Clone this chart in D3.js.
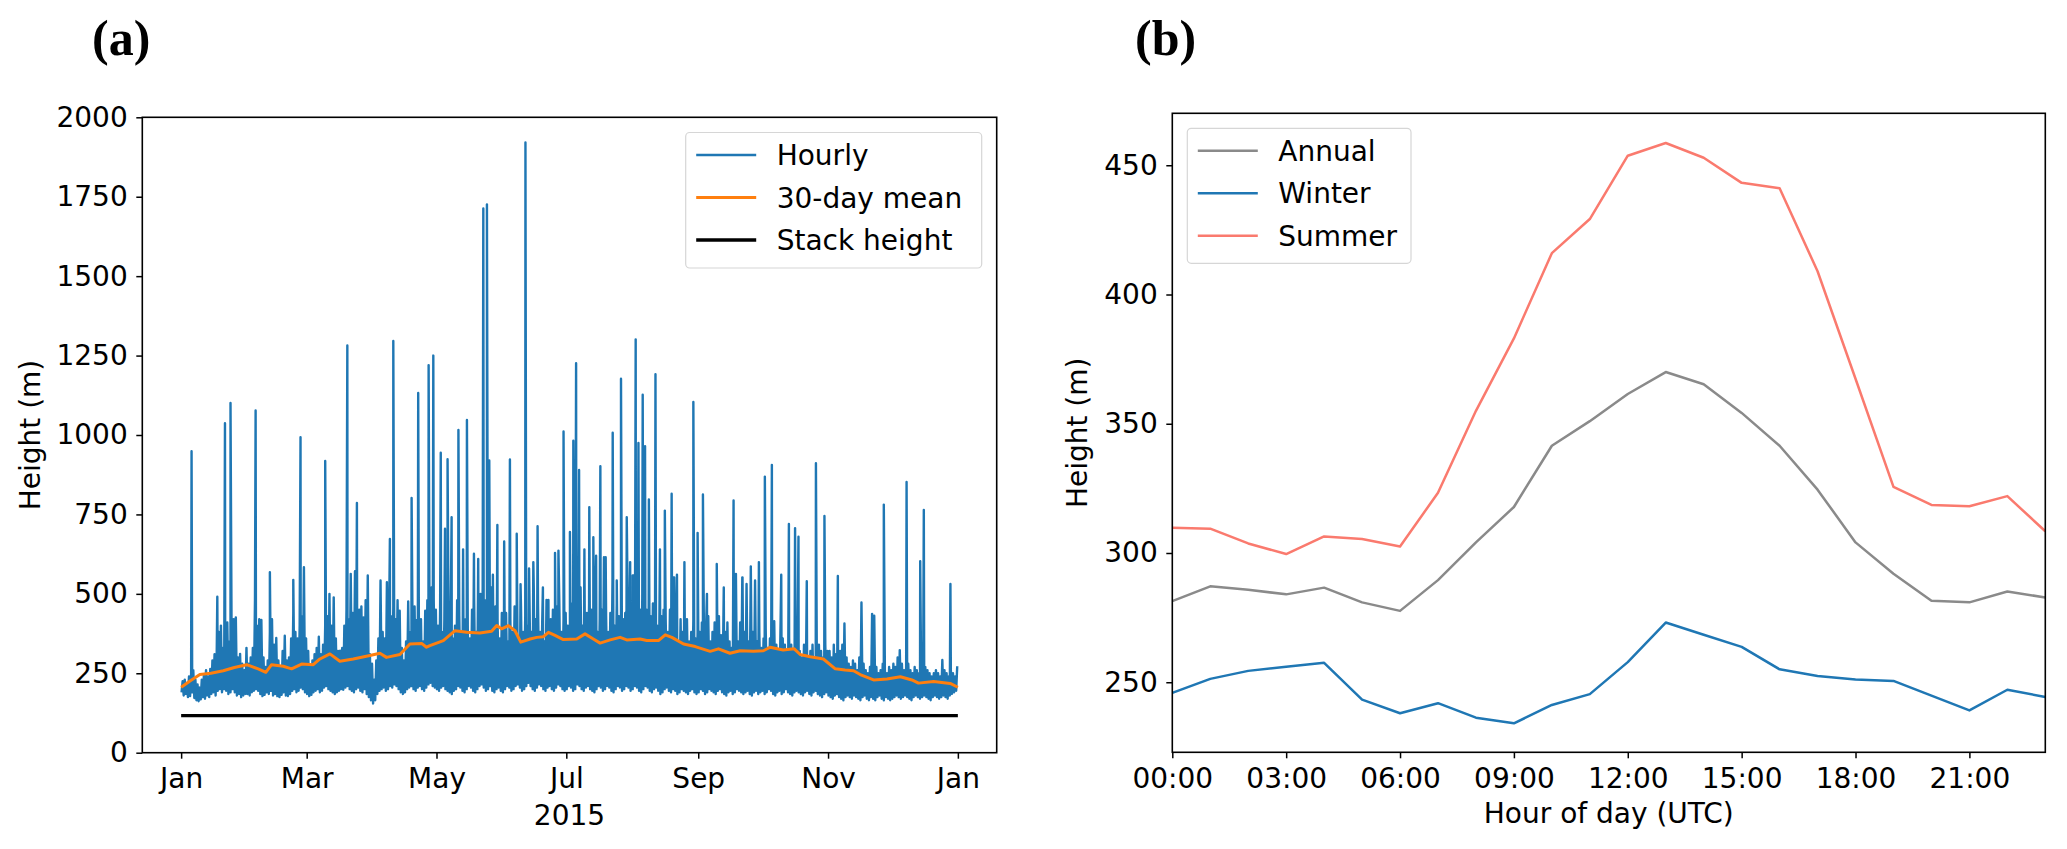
<!DOCTYPE html>
<html>
<head>
<meta charset="utf-8">
<script src="https://cdn.jsdelivr.net/npm/d3@7"></script>
<style>
  body { margin: 0; background: #fff; }
  svg text { font-family: "DejaVu Sans", sans-serif; fill: #000; }
</style>
</head>
<body>
<div id="chart"></div>
<script>
// ---- panel (a): hourly plume height, 2015 ----
const monthStart = [0, 31, 59, 90, 120, 151, 181, 212, 243, 273, 304, 334];

// typical daily peak of the hourly series, one row per month
const bandHigh = [
  [225,230,215,240,250,260,230,215,205,230,245,260,240,264,290,310,300,380,400,330,350,410,350,380,420,426,300,311,280,260,330],
  [280,300,330,479,400,420,418,300,270,290,380,420,340,361,290,270,320,368,290,300,360,440,380,360,400,430,584,360],
  [320,270,290,310,330,365,310,340,400,430,500,400,489,360,320,321,330,400,450,420,563,440,571,400,450,460,426,480,558,310,280],
  [230,290,360,542,380,360,537,400,430,460,420,480,447,330,290,350,476,380,430,460,418,430,420,350,447,480,450,520,480,450],
  [400,450,380,420,470,380,440,360,400,480,430,380,350,420,390,360,450,480,380,440,500,520,480,420,470,520,380,460,420,360,440],
  [380,440,350,420,380,460,400,350,460,380,430,400,480,380,520,420,470,380,420,350,481,350,420,450,380,460,480,380,420,440],
  [400,380,470,430,380,460,520,400,380,440,470,450,400,470,380,420,450,615,430,380,440,542,400,470,430,380,420,440,558,380,420],
  [558,420,470,450,490,430,450,400,430,470,450,400,380,430,450,420,380,450,400,552,380,350,420,380,360,420,350,380,420,360,380],
  [380,410,350,400,430,350,380,410,380,430,370,350,380,410,350,330,380,563,350,410,552,380,531,350,586,380,542,350,380,330],
  [360,390,330,360,390,414,340,320,414,360,340,320,360,340,320,340,360,320,300,340,320,300,320,340,300,320,340,320,300,340,320],
  [320,300,340,310,290,320,340,407,300,280,270,290,280,260,300,473,280,260,250,270,437,431,270,250,260,280,260,250,270,260],
  [280,270,300,323,280,260,270,280,260,250,270,260,250,280,260,270,260,250,240,250,260,250,240,292,260,250,240,260,250,240,272]
];

// typical daily minimum of the hourly series
const bandLow = [
  [190,180,185,175,178,190,172,165,162,168,175,170,180,175,185,190,180,195,200,190,200,195,185,190,200,190,180,185,175,180,185],
  [185,180,190,195,200,195,185,178,182,190,185,195,180,185,178,175,182,190,180,178,185,195,200,190,195,205,200,190],
  [185,178,182,190,195,200,190,195,205,210,200,195,190,185,190,195,200,198,205,210,200,195,190,200,205,195,190,200,185,175,165],
  [155,165,185,195,200,205,195,200,210,205,215,210,200,190,185,190,200,205,210,200,195,205,210,200,195,205,215,220,210,205],
  [200,195,205,210,200,195,190,185,195,200,210,205,195,190,200,210,205,195,190,200,210,215,205,195,200,210,195,190,200,205,195],
  [190,200,210,205,195,200,210,215,205,195,200,210,220,210,200,195,205,215,210,200,195,205,210,200,195,205,215,210,200,195],
  [200,210,205,195,200,215,210,200,195,205,210,200,195,190,200,210,205,195,200,210,205,195,190,200,210,205,195,200,210,205,195],
  [200,210,205,195,190,200,210,205,195,190,200,205,195,185,190,200,205,195,190,200,195,185,190,200,195,190,185,195,200,190,185],
  [190,200,195,185,190,200,195,190,185,195,200,190,185,180,190,195,185,190,200,195,190,185,190,195,185,180,190,195,185,190],
  [195,185,190,200,195,185,180,190,195,185,190,200,190,185,180,190,195,190,185,180,190,195,185,180,190,195,185,180,175,185,190],
  [180,175,170,180,185,175,170,165,175,180,175,170,180,175,170,165,175,180,170,165,175,170,165,175,180,170,165,175,170,165],
  [170,175,180,175,170,175,180,175,170,165,175,180,175,170,175,180,175,170,165,175,180,175,170,175,180,175,170,180,185,190,195]
];

// isolated spikes of the hourly series (day of year, height in m)
const spikeDays = [4.9, 17.0, 20.6, 23.2, 35.0, 41.7, 52.7, 56.1, 67.7, 78.1, 82.6, 98.1, 99.7, 108.3, 111.4, 116.3, 118.5,
  122.0, 124.0, 125.2, 127.1, 130.3, 132.5, 134.3, 137.6, 139.6, 142.0, 143.7, 144.8, 146.5, 148.6, 151.8, 154.5, 157.7,
  159.5, 161.8, 163.5, 165.5, 167.5, 170.0, 172.6, 175.7, 177.3, 179.7, 182.7, 184.3, 185.6, 187.0, 189.5, 191.8,
  193.7, 195.0, 197.0, 199.5, 202.8, 204.7, 206.7, 209.4, 211.0, 212.2,
  213.6, 214.9, 216.9, 218.0, 219.8, 222.9, 225.0, 227.3, 230.5, 231.3, 233.0, 236.5, 240.7, 242.7, 245.2, 247.1, 251.7,
  255.0, 259.6, 263.8, 271.5, 274.3, 277.6, 282.0, 285.6, 288.5, 290.1, 294.0, 298.3, 302.3, 308.6, 330.2, 340.9,
  347.3, 349.0, 361.5];
const spikeHeights = [949, 491, 1037, 1101, 1077, 568, 544, 993, 918, 1282, 786, 673, 1296, 802, 1132, 1220, 1250,
  944, 705, 924, 741, 1016, 640, 1047, 626, 610, 1713, 1726, 920, 560, 717, 665, 923, 689,
  530, 1921, 580, 600, 713, 520, 481, 629, 636, 1011, 695, 982, 1226, 890, 640, 773,
  678, 620, 902, 615, 1007, 542, 1177, 741, 600, 558,
  1301, 975, 1127, 965, 797, 1191, 640, 762, 815, 552, 560, 600, 1104, 692, 813, 500, 594,
  520, 794, 552, 600, 869, 906, 560, 720, 707, 680, 540, 911, 745, 556, 781, 852,
  603, 764, 531];

// 30-day running mean
const meanDays = [0, 4, 8.8, 14, 19.8, 25, 30.8, 36.2, 39.8, 42.5, 48, 51.9, 56.6, 62.1, 65.2, 69.9, 74.6, 80.9, 88.7,
  93.4, 96.5, 102.8, 107.5, 113, 115.3, 116.9, 123.2, 128.7, 134.2, 140.4, 145.9, 148.3, 150.6, 153.8, 156.9,
  159.6, 164, 167.1, 170.2, 172.6, 175.7, 179.6, 185.9, 189.8, 193.7, 196.9, 201.6, 206.3, 209.4, 215.7, 218.8,
  224.3, 227.5, 230.6, 236.1, 241.6, 248.6, 252.5, 257.9, 262.7, 269, 273.6, 276.8, 282.9, 288.1, 290.9, 295.6,
  301.8, 307.4, 312, 316, 319.1, 325.4, 331.7, 338, 343.4, 346.5, 353.6, 361.4, 365];
const meanHeights = [206, 225, 246, 250, 258, 268, 277, 264, 253, 277, 272, 264, 279, 277, 295, 311, 288, 295, 306,
  313, 300, 309, 342, 344, 332, 337, 353, 384, 379, 377, 382, 400, 390, 400, 384,
  348, 358, 363, 365, 379, 369, 356, 358, 374, 358, 345, 355, 363, 355, 358, 353,
  353, 371, 363, 342, 334, 319, 327, 313, 321, 319, 321, 332, 323, 327, 309, 302,
  295, 264, 260, 258, 246, 229, 232, 239, 229, 219, 224, 218, 206];

const stackHeight = 117;

const monthTickDays = [0, 59, 120, 181, 243, 304, 365];
const monthTickLabels = ["Jan", "Mar", "May", "Jul", "Sep", "Nov", "Jan"];
const heightTicksA = [0, 250, 500, 750, 1000, 1250, 1500, 1750, 2000];

// ---- panel (b): mean diurnal cycle ----
const hours = [0,1,2,3,4,5,6,7,8,9,10,11,12,13,14,15,16,17,18,19,20,21,22,23];
const annual = [281.4,287.1,285.8,284.0,286.6,280.9,277.6,289.5,304.1,317.8,341.5,351.0,361.5,370.0,365.3,354.2,341.5,324.5,304.1,292.0,281.5,280.9,285.1,282.8];
const winter = [245.9,251.3,254.4,256.0,257.5,243.3,238.0,241.9,236.3,234.1,241.2,245.4,257.8,273.1,268.4,263.7,255.0,252.4,251.1,250.5,244.8,239.1,247.1,244.3];
const summer = [309.8,309.4,303.7,299.6,306.4,305.4,302.5,323.3,355.0,383.0,416.0,429.2,453.7,458.6,452.9,443.2,441.1,409.0,367.4,325.6,318.6,318.1,322.0,308.4];
const hourTicks = [0, 3, 6, 9, 12, 15, 18, 21];
const hourTickLabels = ["00:00", "03:00", "06:00", "09:00", "12:00", "15:00", "18:00", "21:00"];
const heightTicksB = [250, 300, 350, 400, 450];

const FS = 28;
const svg = d3.select("#chart").append("svg")
  .attr("width", 2067)
  .attr("height", 849);

function styleAxis(g) {
  g.select(".domain").remove();
  g.selectAll(".tick line").attr("stroke", "#000").attr("stroke-width", 1.5);
  g.selectAll(".tick text").style("font-size", FS + "px").attr("fill", "#000");
}

function drawLegend(g, x0, y0, w, h, items) {
  g.append("rect")
    .attr("x", x0).attr("y", y0).attr("width", w).attr("height", h)
    .attr("rx", 4).attr("fill", "white").attr("fill-opacity", 0.8)
    .attr("stroke", "#d6d6d6").attr("stroke-width", 1.2);
  items.forEach((it, i) => {
    const cy = y0 + 22.5 + i * 42.5;
    g.append("line")
      .attr("x1", x0 + 10.5).attr("x2", x0 + 70.5)
      .attr("y1", cy).attr("y2", cy)
      .attr("stroke", it.color).attr("stroke-width", it.width);
    g.append("text")
      .attr("x", x0 + 91).attr("y", cy + 10)
      .style("font-size", FS + "px")
      .text(it.label);
  });
}

// ===== panel (a) =====
{
  const left = 142.3, right = 996.7, top = 117.3, bottom = 752.7;

  const x = d3.scaleLinear().domain([-18.25, 383.25]).range([left, right]);
  const y = d3.scaleLinear().domain([0, 2000]).range([bottom, top]);

  // hourly series: daily minimum, daily peak, plus the spikes, in time order
  const hourly = [];
  bandHigh.forEach((month, m) => month.forEach((v, i) => {
    const d = monthStart[m] + i;
    hourly.push({ day: d + 0.2, h: bandLow[m][i] });
    hourly.push({ day: d + 0.7, h: v });
  }));
  spikeDays.forEach((d, i) => hourly.push({ day: d, h: spikeHeights[i] }));
  hourly.sort((a, b) => a.day - b.day);

  const line = d3.line().x(d => x(d.day)).y(d => y(d.h));

  svg.append("path")
    .datum(hourly)
    .attr("fill", "none")
    .attr("stroke", "#1f77b4")
    .attr("stroke-width", 2.4)
    .attr("stroke-linejoin", "round")
    .attr("d", line);

  const mean = meanDays.map((d, i) => ({ day: d, h: meanHeights[i] }));
  svg.append("path")
    .datum(mean)
    .attr("fill", "none")
    .attr("stroke", "#ff7f0e")
    .attr("stroke-width", 3)
    .attr("stroke-linejoin", "round")
    .attr("d", line);

  svg.append("path")
    .datum([{ day: 0, h: stackHeight }, { day: 365, h: stackHeight }])
    .attr("fill", "none")
    .attr("stroke", "#000")
    .attr("stroke-width", 3.3)
    .attr("d", line);

  const gx = svg.append("g")
    .attr("transform", `translate(0,${bottom})`)
    .call(d3.axisBottom(x).tickValues(monthTickDays)
      .tickFormat((d, i) => monthTickLabels[i]).tickSize(6).tickPadding(9.4));
  styleAxis(gx);

  const gy = svg.append("g")
    .attr("transform", `translate(${left},0)`)
    .call(d3.axisLeft(y).tickValues(heightTicksA).tickFormat(d3.format("d"))
      .tickSize(6).tickPadding(8.6));
  styleAxis(gy);

  svg.append("rect")
    .attr("x", left).attr("y", top)
    .attr("width", right - left).attr("height", bottom - top)
    .attr("fill", "none").attr("stroke", "#000").attr("stroke-width", 1.6);

  svg.append("text")
    .attr("transform", `translate(40,${(top + bottom) / 2}) rotate(-90)`)
    .attr("text-anchor", "middle")
    .style("font-size", FS + "px")
    .text("Height (m)");

  svg.append("text")
    .attr("x", (left + right) / 2).attr("y", 825)
    .attr("text-anchor", "middle")
    .style("font-size", FS + "px")
    .text("2015");

  drawLegend(svg.append("g"), 685.7, 132.5, 296, 135.5, [
    { label: "Hourly", color: "#1f77b4", width: 2.6 },
    { label: "30-day mean", color: "#ff7f0e", width: 3 },
    { label: "Stack height", color: "#000", width: 3.3 }
  ]);

  svg.append("text")
    .attr("x", 92).attr("y", 55)
    .style("font-family", "'Liberation Serif', serif")
    .style("font-weight", "bold")
    .style("font-size", "50px")
    .text("(a)");
}

// ===== panel (b) =====
{
  const left = 1172.3, right = 2045.3, top = 113.3, bottom = 752.3;

  const x = d3.scaleLinear().domain([0, 23]).range([left, right]);
  const y = d3.scaleLinear().domain([222.9, 470.1]).range([bottom, top]);

  const series = [
    { label: "Annual", values: annual, color: "#8a8a8a" },
    { label: "Winter", values: winter, color: "#1f77b4" },
    { label: "Summer", values: summer, color: "#fa7a6e" }
  ];

  const line = d3.line().x((d, i) => x(hours[i])).y(d => y(d));

  series.forEach(s => {
    svg.append("path")
      .datum(s.values)
      .attr("fill", "none")
      .attr("stroke", s.color)
      .attr("stroke-width", 2.5)
      .attr("stroke-linejoin", "round")
      .attr("d", line);
  });

  const gx = svg.append("g")
    .attr("transform", `translate(0,${bottom})`)
    .call(d3.axisBottom(x).tickValues(hourTicks)
      .tickFormat((d, i) => hourTickLabels[i]).tickSize(6).tickPadding(9.4));
  styleAxis(gx);

  const gy = svg.append("g")
    .attr("transform", `translate(${left},0)`)
    .call(d3.axisLeft(y).tickValues(heightTicksB).tickSize(6).tickPadding(8.6));
  styleAxis(gy);

  svg.append("rect")
    .attr("x", left).attr("y", top)
    .attr("width", right - left).attr("height", bottom - top)
    .attr("fill", "none").attr("stroke", "#000").attr("stroke-width", 1.6);

  svg.append("text")
    .attr("transform", `translate(1087,${(top + bottom) / 2}) rotate(-90)`)
    .attr("text-anchor", "middle")
    .style("font-size", FS + "px")
    .text("Height (m)");

  svg.append("text")
    .attr("x", (left + right) / 2).attr("y", 823)
    .attr("text-anchor", "middle")
    .style("font-size", FS + "px")
    .text("Hour of day (UTC)");

  drawLegend(svg.append("g"), 1187.3, 128.3, 223.7, 135, series.map(s => ({
    label: s.label, color: s.color, width: 2.5
  })));

  svg.append("text")
    .attr("x", 1135).attr("y", 55)
    .style("font-family", "'Liberation Serif', serif")
    .style("font-weight", "bold")
    .style("font-size", "50px")
    .text("(b)");
}
</script>
</body>
</html>
